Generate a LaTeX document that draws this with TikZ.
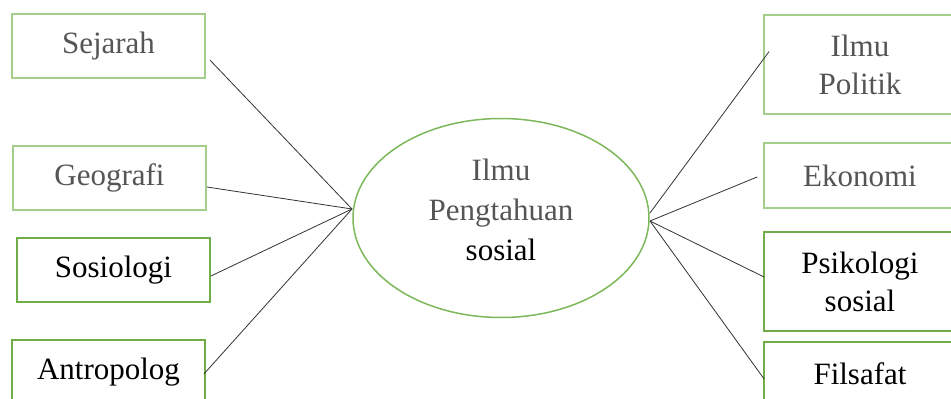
\documentclass[tikz,border=0pt]{standalone}
\usepackage{fontspec}
\setmainfont{Liberation Serif}
\usetikzlibrary{shapes.geometric}
\definecolor{gLight}{HTML}{A3CF8A}
\definecolor{gDark}{HTML}{70AD47}
\definecolor{gEll}{HTML}{7DB85A}
\definecolor{txtGray}{HTML}{555555}
\begin{document}
\begin{tikzpicture}[x=1pt,y=-1pt,
  box/.style={draw=gDark, line width=1.8pt, fill=white, rectangle, inner sep=0pt,
    align=center, font=\fontsize{31}{38}\selectfont, text=black},
  lightbox/.style={box, draw=gLight, text=txtGray},
  conn/.style={line width=0.8pt, draw=black!80}]
\useasboundingbox (0,0) rectangle (951,399);
\clip (0,0) rectangle (951,399);
\fill[white] (0,0) rectangle (951,399);

% central ellipse
\node[ellipse, draw=gEll, line width=1.5pt, minimum width=296pt, minimum height=199pt,
  inner sep=0pt] (ell) at (501,218) {};
\node[align=center, inner sep=0pt, font=\fontsize{31}{40}\selectfont] (ellt) at (501,210)
  {\textcolor{txtGray}{Ilmu}\\ \textcolor{txtGray}{Pengtahuan}\\ sosial};

% left boxes
\node[lightbox, minimum width=193pt, minimum height=64pt] (sej) at (108.5,46) {Sejarah};
\node[lightbox, minimum width=193pt, minimum height=64pt] (geo) at (109.5,178) {Geografi};
\node[box, minimum width=193pt, minimum height=64pt] (sos) at (113.5,270) {Sosiologi};
\node[box, minimum width=193pt, minimum height=64pt] (ant) at (108.5,372) {Antropolog};

% right boxes
\node[lightbox, minimum width=192pt, minimum height=99pt] (pol) at (860,64.5) {Ilmu\\Politik};
\node[lightbox, minimum width=192pt, minimum height=65pt] (eko) at (860,175.5) {Ekonomi};
\node[box, minimum width=192pt, minimum height=99pt] (psi) at (860,281.5) {Psikologi\\sosial};
\node[box, minimum width=192pt, minimum height=64pt] (fil) at (860,374) {Filsafat};

% convergence points on the ellipse
\coordinate (L) at (352,209);
\coordinate (R1) at (650,213);
\coordinate (R2) at (650,221);

% connectors
\draw[conn] ([xshift=4pt,yshift=-14pt]sej.east) -- (L);
\draw[conn] ([yshift=-9pt]geo.east) -- (L);
\draw[conn] ([yshift=-6pt]sos.east) -- (L);
\draw[conn] ([xshift=-2pt,yshift=-2pt]ant.east) -- (L);
\draw[conn] ([xshift=6pt,yshift=13pt]pol.west) -- (R1);
\draw[conn] ([xshift=-6pt,yshift=-1.5pt]eko.west) -- (R2);
\draw[conn] ([xshift=1pt,yshift=4.5pt]psi.west) -- (R2);
\draw[conn] ([xshift=1pt,yshift=-5pt]fil.west) -- (R2);
\end{tikzpicture}
\end{document}
